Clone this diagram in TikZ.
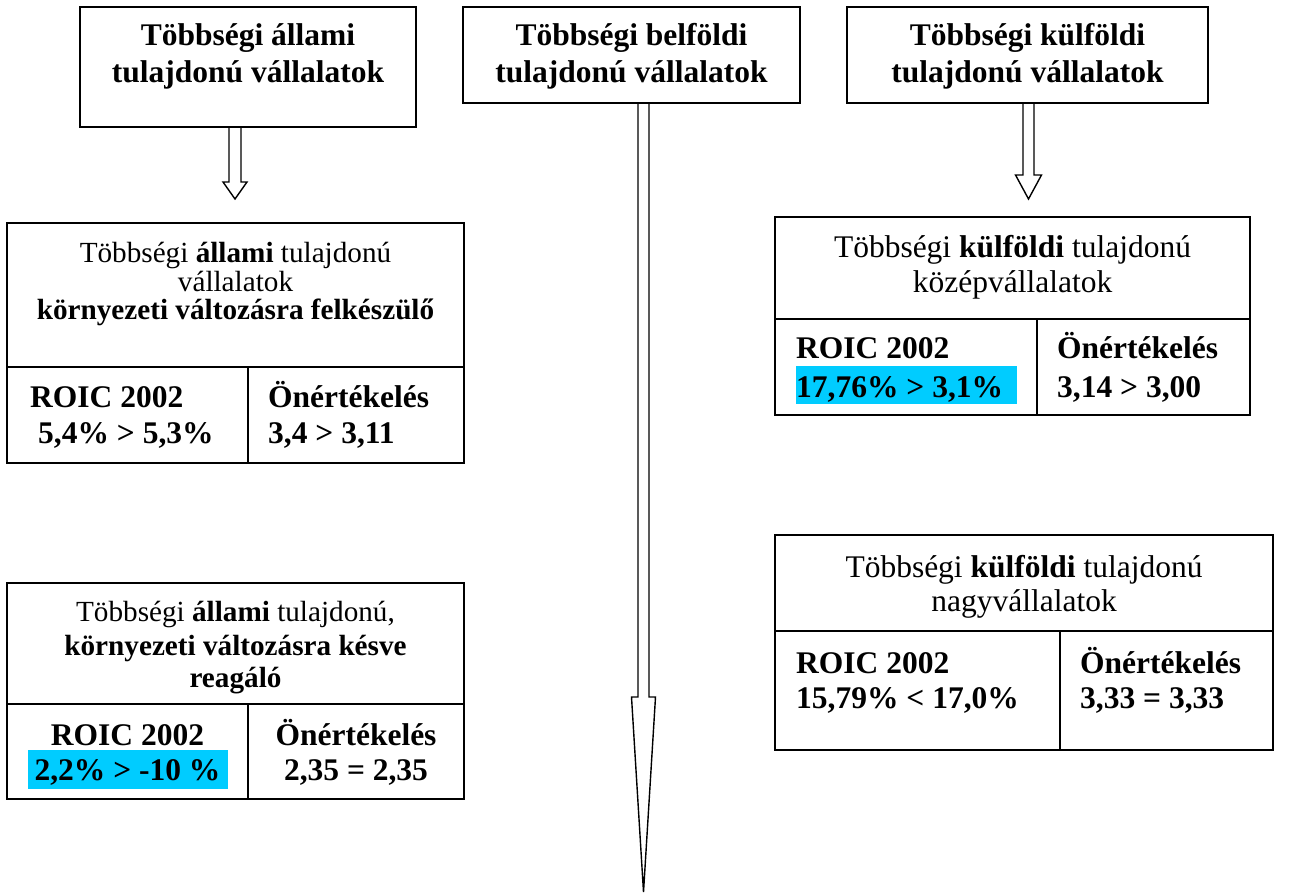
\documentclass[tikz,border=0pt]{standalone}
\usepackage{fontspec}
\setmainfont{Liberation Serif}
\begin{document}
\begin{tikzpicture}[x=1pt,y=-1pt,
  frame/.style={draw=black, line width=1.5pt, inner sep=0pt, fill=none},
  rule/.style={draw=black, line width=1.5pt},
  arrowline/.style={draw=black, line width=1.4pt, line join=miter},
  txt/.style={inner sep=0pt, anchor=base, font=\fontsize{31.5}{36}\selectfont},
  txtsmall/.style={txt, font=\fontsize{29.2}{33}\selectfont},
  txtl/.style={txt, anchor=base west},
  hl/.style={fill=hlcyan, draw=none}]
\definecolor{hlcyan}{RGB}{0,204,255}
\useasboundingbox (0,0) rectangle (1289,893);

% hollow block arrow: centre x, top, shoulder, tip, half shaft, half head
\newcommand{\hollowarrow}[6]{%
  \draw[arrowline] (#1-#5,#2) -- (#1-#5,#3) -- (#1-#6,#3) -- (#1,#4)
    -- (#1+#6,#3) -- (#1+#5,#3) -- (#1+#5,#2);}

% ---- headers ----
\node[frame, minimum width=336pt, minimum height=120pt] (A) at (248,67) {};
\node[txt] (A1) at (248,46) {\bfseries Többségi állami};
\node[txt] (A2) at (248,83) {\bfseries tulajdonú vállalatok};

\node[frame, minimum width=337pt, minimum height=96pt] (B) at (631.5,55) {};
\node[txt] (B1) at (631.5,46) {\bfseries Többségi belföldi};
\node[txt] (B2) at (631.5,83) {\bfseries tulajdonú vállalatok};

\node[frame, minimum width=361pt, minimum height=96pt] (C) at (1027.5,55) {};
\node[txt] (C1) at (1027.5,46) {\bfseries Többségi külföldi};
\node[txt] (C2) at (1027.5,83) {\bfseries tulajdonú vállalatok};

% ---- arrows ----
\hollowarrow{235}{127}{182}{199}{6}{12}
\hollowarrow{643.5}{103}{697}{892}{5.5}{12}
\hollowarrow{1028.5}{103}{175}{199}{5.5}{13}

% ---- state-owned, prepared ----
\node[frame, minimum width=457pt, minimum height=240pt] (D) at (235.5,343) {};
\coordinate (Dh) at (248,367);
\draw[rule] (D.west |- Dh) -- (D.east |- Dh);
\draw[rule] (Dh) -- (Dh |- D.south);
\node[txtsmall] (D1) at (235.5,262) {Többségi \textbf{állami} tulajdonú};
\node[txtsmall] (D2) at (235.5,291) {vállalatok};
\node[txtsmall] (D3) at (235.5,319) {\bfseries környezeti változásra felkészülő};
\node[txtl] (D4) at (30,407) {\bfseries ROIC 2002};
\node[txtl] (D5) at (38,443) {\bfseries 5,4\% > 5,3\%};
\node[txtl] (D6) at (268,407) {\bfseries Önértékelés};
\node[txtl] (D7) at (268,443) {\bfseries 3,4 > 3,11};

% ---- foreign-owned, medium ----
\node[frame, minimum width=475pt, minimum height=198pt] (E) at (1012.5,316) {};
\coordinate (Eh) at (1037,319);
\draw[rule] (E.west |- Eh) -- (E.east |- Eh);
\draw[rule] (Eh) -- (Eh |- E.south);
\node[txt] (E1) at (1012.5,258) {Többségi \textbf{külföldi} tulajdonú};
\node[txt] (E2) at (1012.5,292) {középvállalatok};
\fill[hl] (796,366) rectangle (1017,404);
\node[txtl] (E3) at (796,358) {\bfseries ROIC 2002};
\node[txtl] (E4) at (796,397) {\bfseries 17,76\% > 3,1\%};
\node[txtl] (E5) at (1057,358) {\bfseries Önértékelés};
\node[txtl] (E6) at (1057,397) {\bfseries 3,14 > 3,00};

% ---- state-owned, late ----
\node[frame, minimum width=457pt, minimum height=216pt] (F) at (235.5,691) {};
\coordinate (Fh) at (248,704);
\draw[rule] (F.west |- Fh) -- (F.east |- Fh);
\draw[rule] (Fh) -- (Fh |- F.south);
\node[txtsmall] (F1) at (235.5,621) {Többségi \textbf{állami} tulajdonú,};
\node[txtsmall] (F2) at (235.5,655) {\bfseries környezeti változásra késve};
\node[txtsmall] (F3) at (235.5,687) {\bfseries reagáló};
\fill[hl] (28,750) rectangle (228,789);
\node[txt] (F4) at (127.5,745) {\bfseries ROIC 2002};
\node[txt] (F5) at (127.5,780) {\bfseries 2,2\% > -10 \%};
\node[txt] (F6) at (356,745) {\bfseries Önértékelés};
\node[txt] (F7) at (356,780) {\bfseries 2,35 = 2,35};

% ---- foreign-owned, large ----
\node[frame, minimum width=498pt, minimum height=215pt] (G) at (1024,642.5) {};
\coordinate (Gh) at (1060,631);
\draw[rule] (G.west |- Gh) -- (G.east |- Gh);
\draw[rule] (Gh) -- (Gh |- G.south);
\node[txt] (G1) at (1024,577) {Többségi \textbf{külföldi} tulajdonú};
\node[txt] (G2) at (1024,611) {nagyvállalatok};
\node[txtl] (G3) at (796,673) {\bfseries ROIC 2002};
\node[txtl] (G4) at (796,708) {\bfseries 15,79\% < 17,0\%};
\node[txtl] (G5) at (1080,673) {\bfseries Önértékelés};
\node[txtl] (G6) at (1080,708) {\bfseries 3,33 = 3,33};
\end{tikzpicture}
\end{document}
